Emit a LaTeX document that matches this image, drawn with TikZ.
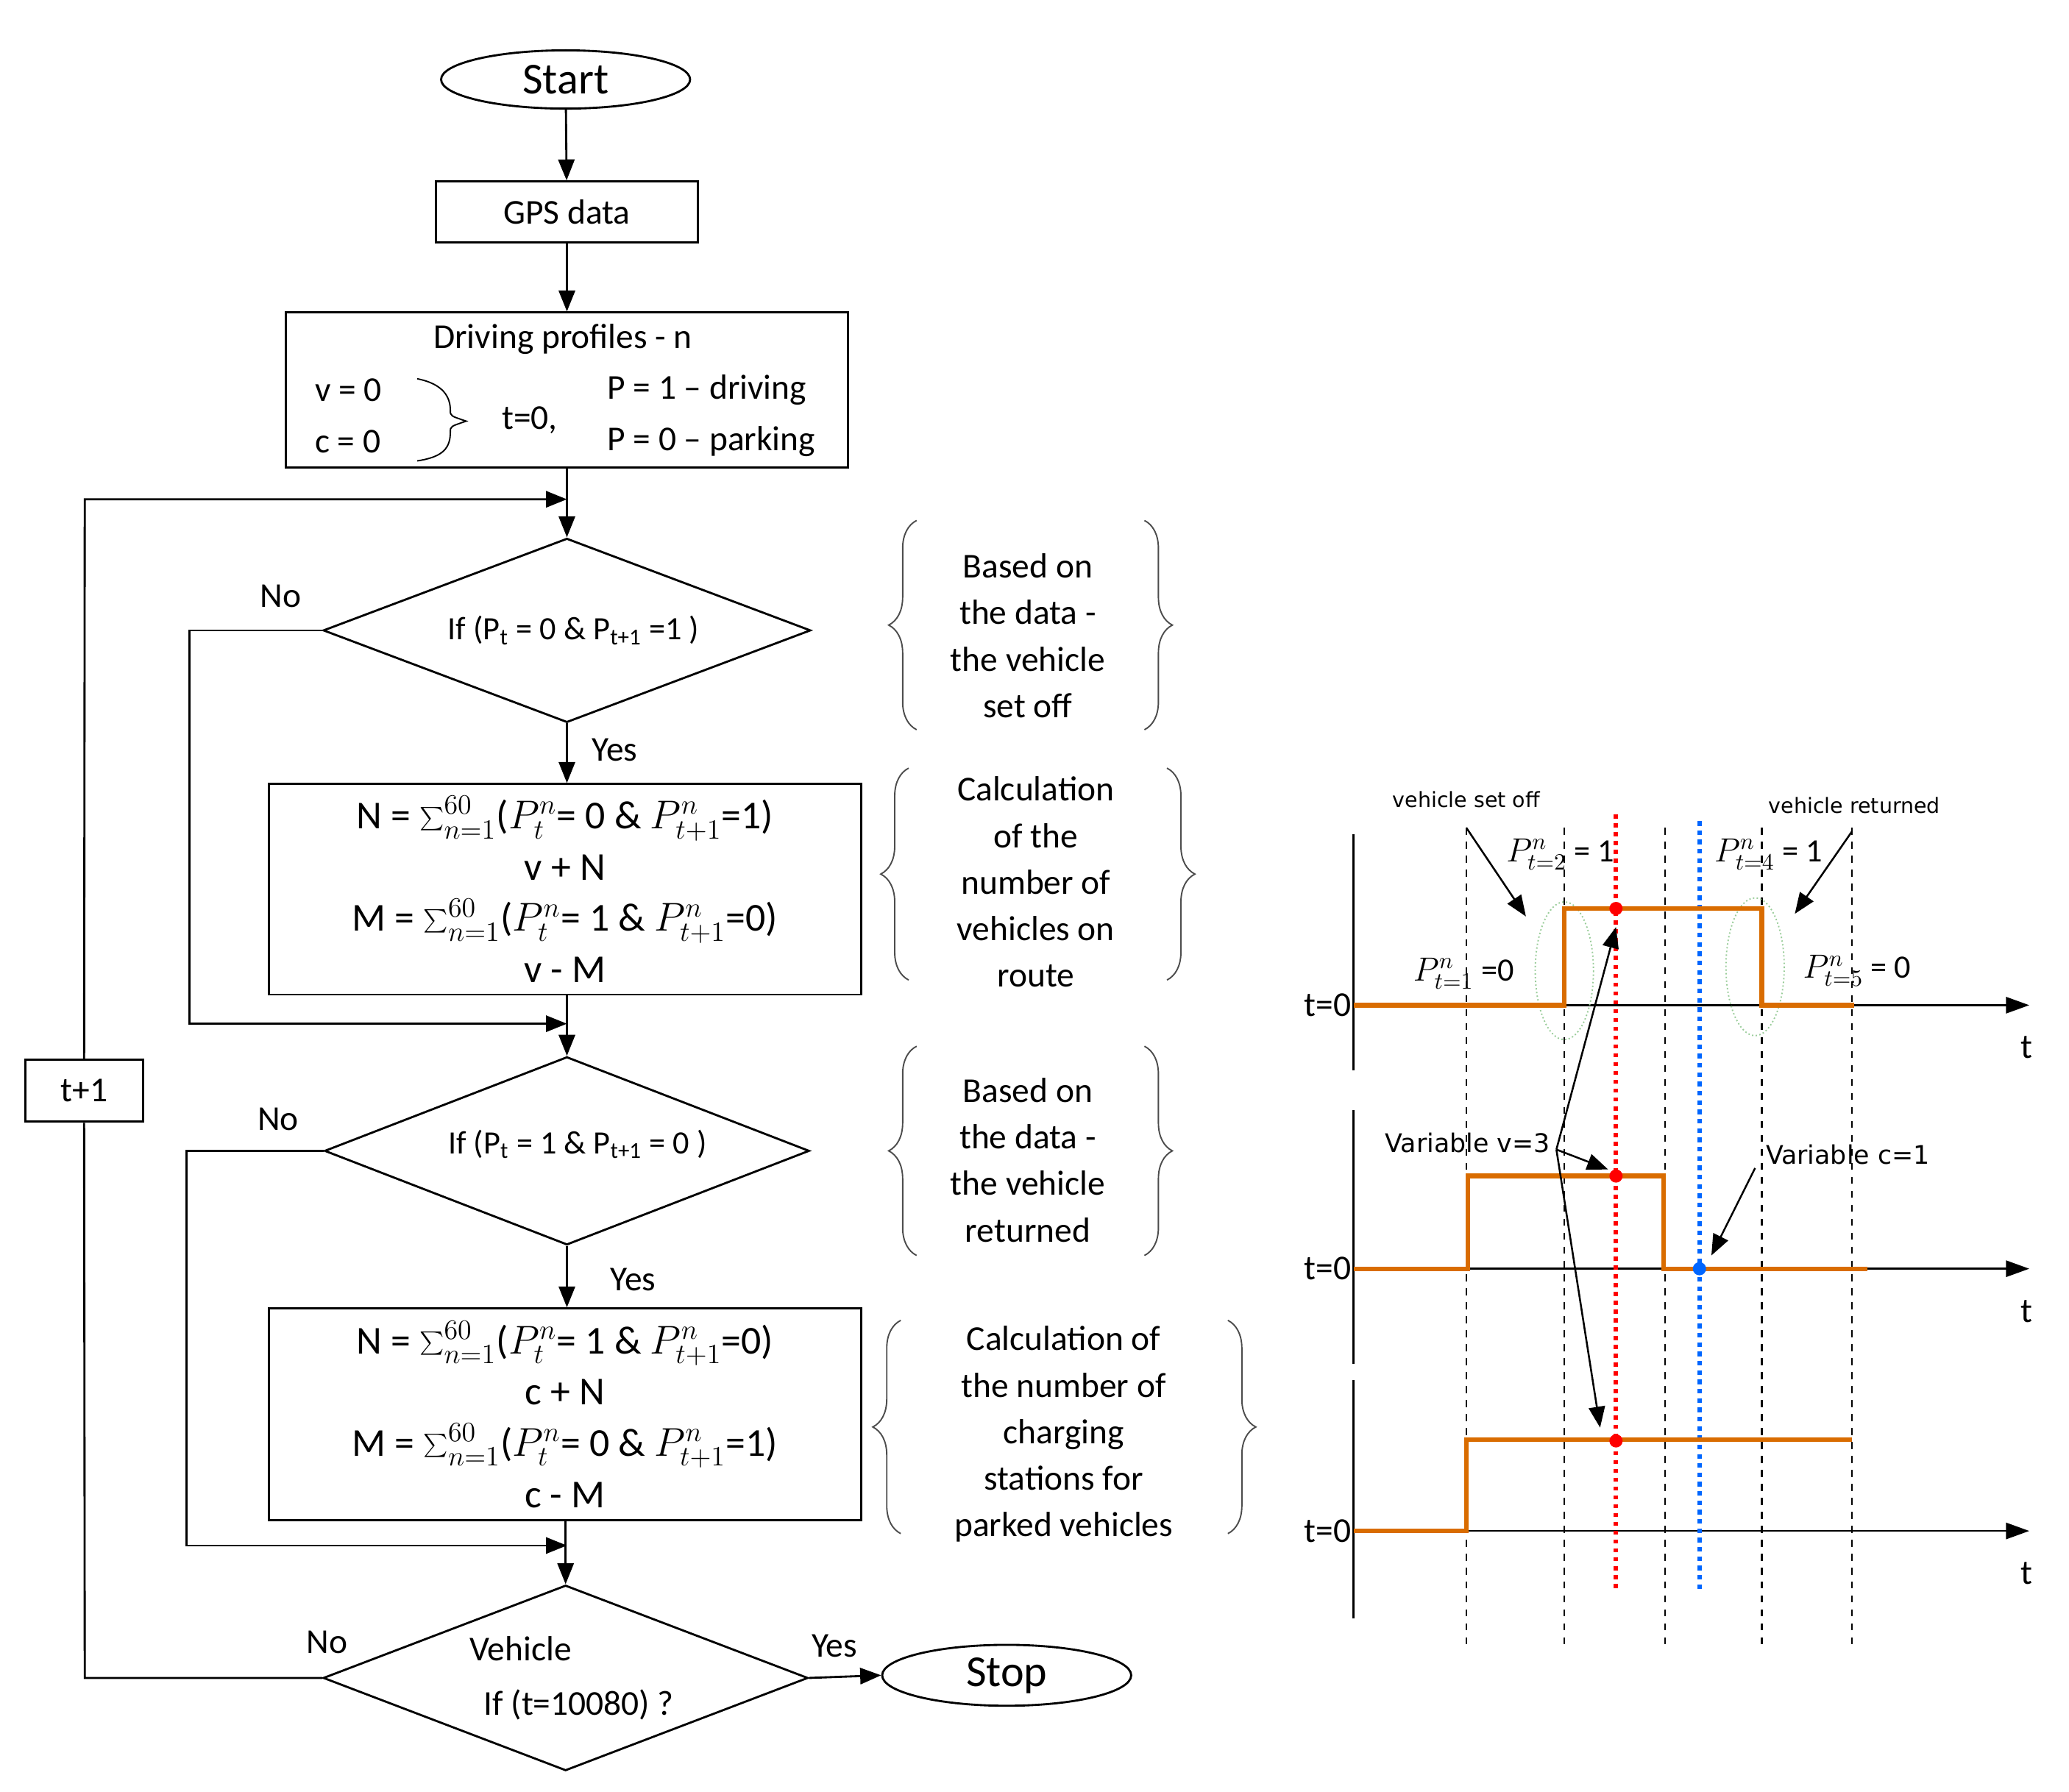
\documentclass[tikz,border=0pt]{standalone}
\usepackage{fontspec}
\setmainfont{Carlito}
\newfontfamily\sm{DejaVu Sans}
\usetikzlibrary{shapes.geometric,arrows.meta,decorations.pathreplacing}
\begin{document}
\begin{tikzpicture}[x=0.02cm,y=-0.02cm,
 box/.style={draw,line width=0.9pt,inner sep=0pt},
 dia/.style={draw,line width=0.9pt,diamond,aspect=2.65,inner sep=0pt},
 el/.style={draw,ellipse,line width=0.9pt,inner sep=0pt},
 arr/.style={line width=0.9pt,-{Triangle[length=9pt,width=7pt]}},
 ln/.style={line width=0.9pt},
 ft/.style={font=\fontsize{15}{20}\selectfont},
 mt/.style={font=\fontsize{17}{22}\selectfont},
 sig/.style={draw=orange!85!black,line width=2pt},
 dsh/.style={dashed,line width=0.8pt},
 brc/.style={decorate,decoration={brace,amplitude=12pt},line width=0.6pt,draw=black!70},
 sl/.style={font=\sm\fontsize{9}{11}\selectfont},
 pl/.style={font=\fontsize{14}{16}\selectfont},
 tl/.style={font=\fontsize{15}{18}\selectfont}]
\useasboundingbox (0,0) rectangle (1562,1353);
% flowchart
\node[el,minimum width=188*0.02cm,minimum height=44*0.02cm,font=\fontsize{19}{22}\selectfont] (start) at (427,60) {Start};
\node[box,minimum width=198*0.02cm,minimum height=46*0.02cm,ft] (gps) at (428,160) {GPS data};
\node[box,minimum width=424*0.02cm,minimum height=117*0.02cm] (drv) at (428,294.5) {};
\node[ft] (drvt) at (425,256) {Driving profiles - n};
\node[ft,align=left] (vc) at (263,314) {v = 0\\[2pt] c = 0};
\draw[line width=0.6pt] (315,286) .. controls (335,290) and (340,300) .. (340,310) .. controls (340,314) .. (352,318) .. controls (340,322) .. (340,326) .. controls (340,338) and (335,345) .. (315,348);
\node[ft] (t0) at (400,317) {t=0,};
\node[ft,align=left] (pp) at (537,314) {P = 1 -- driving\\[2pt] P = 0 -- parking};
\node[dia,minimum width=368*0.02cm,minimum height=139*0.02cm] (d1) at (428,476) {};
\node[font=\fontsize{14}{16}\selectfont] at (433,476) {If (P\textsubscript{t} = 0 \& P\textsubscript{t+1} =1 )};
\node[box,minimum width=447*0.02cm,minimum height=159*0.02cm,mt,align=center] (b2) at (426.5,671.5) {N = $\sum_{n=1}^{60}$($P_t^n$= 0 \& $P_{t+1}^n$=1)\\ v + N\\ M = $\sum_{n=1}^{60}$($P_t^n$= 1 \& $P_{t+1}^n$=0)\\ v - M};
\node[dia,minimum width=366*0.02cm,minimum height=142*0.02cm] (d2) at (428,869) {};
\node[font=\fontsize{14}{16}\selectfont] at (436,864) {If (P\textsubscript{t} = 1 \& P\textsubscript{t+1} = 0 )};
\node[box,minimum width=447*0.02cm,minimum height=160*0.02cm,mt,align=center] (b3) at (426.5,1068) {N = $\sum_{n=1}^{60}$($P_t^n$= 1 \& $P_{t+1}^n$=0)\\ c + N\\ M = $\sum_{n=1}^{60}$($P_t^n$= 0 \& $P_{t+1}^n$=1)\\ c - M};
\node[dia,minimum width=366*0.02cm,minimum height=140*0.02cm] (d3) at (427,1267) {};
\node[ft] at (393,1245) {Vehicle};
\node[ft] at (437,1287) {If (t=10080) ?};
\node[el,minimum width=188*0.02cm,minimum height=46*0.02cm,font=\fontsize{19}{22}\selectfont] (stop) at (760,1265) {Stop};
\node[box,minimum width=89*0.02cm,minimum height=47*0.02cm,ft] (tp) at (63.5,823.5) {t+1};
\coordinate (j1) at (428,377); \coordinate (j2) at (428,773); \coordinate (j3) at (428,1167);
\draw[arr] (start) -- (gps);
\draw[arr] (gps) -- (drv);
\draw[arr] (drv.south) -- (d1.north);
\draw[arr] (d1.south) -- (b2.north -| d1.south);
\draw[arr] (b2.south -| d2.north) -- (d2.north);
\draw[arr] (d2.south) -- (b3.north -| d2.south);
\draw[arr] (b3.south -| d3.north) -- (d3.north);
\draw[arr] (d3.east) -- (stop.west);
\draw[ln] (d3.west) -- (64,1267) -- (tp.south);
\draw[arr] (tp.north) -- (64,377) -- (j1);
\draw[arr] (d1.west) -- (143,476) -- (143,773) -- (j2);
\draw[arr] (d2.west) -- (141,869) -- (141,1167) -- (j3);
\node[ft] at (212,450) {No}; \node[ft] at (464,566) {Yes};
\node[ft] at (210,845) {No}; \node[ft] at (478,966) {Yes};
\node[ft] at (247,1240) {No}; \node[ft] at (630,1243) {Yes};
% braces
\node[ft,align=center] (g1) at (776,480) {Based on\\the data -\\the vehicle\\set off};
\draw[brc] (692,551) -- (692,393); \draw[brc] (864,393) -- (864,551);
\node[ft,align=center] (g2) at (782,666) {Calculation\\of the\\number of\\vehicles on\\route};
\draw[brc] (686,740) -- (686,580); \draw[brc] (881,580) -- (881,740);
\node[ft,align=center] (g3) at (776,876) {Based on\\the data -\\the vehicle\\returned};
\draw[brc] (692,948) -- (692,790); \draw[brc] (864,790) -- (864,948);
\node[ft,align=center] (g4) at (803,1083) {Calculation of\\the number of\\charging\\stations for\\parked vehicles};
\draw[brc] (680,1158) -- (680,997); \draw[brc] (927,997) -- (927,1158);
% timing chart
\foreach \yy/\ya/\yb in {759/630/808,958/838/1030,1156/1042/1222}{
  \draw[line width=1pt] (1022,\ya) -- (1022,\yb);
  \draw[line width=0.8pt,-{Triangle[length=10pt,width=7pt]}] (1022,\yy) -- (1532,\yy);
  \node[tl,anchor=east,inner sep=1pt] at (1022,\yy) {t=0};
  \node[tl] at (1530,\yy+32) {t};
}
\foreach \xx in {1107,1181,1257,1330,1398}{\draw[dsh] (\xx,625) -- (\xx,1243);}
\draw[red,dotted,line width=1.8pt] (1220,615) -- (1220,1200);
\draw[blue!60!cyan,dotted,line width=2pt] (1283,620) -- (1283,1200);
\draw[green!50!black!40,densely dotted,line width=0.6pt] (1181,733) ellipse (22 and 52);
\draw[green!50!black!40,densely dotted,line width=0.6pt] (1325,730) ellipse (22 and 52);
\draw[sig] (1022,759) -- (1181,759) -- (1181,686) -- (1330,686) -- (1330,759) -- (1400,759);
\draw[sig] (1022,958) -- (1108,958) -- (1108,888) -- (1256,888) -- (1256,958) -- (1410,958);
\draw[sig] (1022,1156) -- (1107,1156) -- (1107,1087) -- (1398,1087);
\fill[red] (1220,686) circle (5) (1220,888) circle (5) (1220,1088) circle (5);
\fill[blue!60!cyan] (1283,958) circle (5);
\node[sl] (vso) at (1107,604) {vehicle set off};
\node[sl] (vr) at (1400,608) {vehicle returned};
\coordinate (a1) at (1107,625); \coordinate (a2) at (1152,692);
\coordinate (a3) at (1398,628); \coordinate (a4) at (1355,690);
\draw[line width=0.8pt,-{Triangle[length=9pt,width=7pt]}] (a1) -- (a2);
\draw[line width=0.8pt,-{Triangle[length=9pt,width=7pt]}] (a3) -- (a4);
\node[pl] at (1105,735) {$P^n_{t=1}$ =0};
\node[pl] at (1178,645) {$P^n_{t=2}$ = 1};
\node[pl] at (1335,645) {$P^n_{t=4}$ = 1};
\node[pl] at (1402,733) {$P^n_{t=5}$ = 0};
\node[sl,font=\sm\fontsize{11}{13}\selectfont] (vv) at (1108,863) {Variable v=3};
\node[sl,font=\sm\fontsize{11}{13}\selectfont] (vc1) at (1395,872) {Variable c=1};
\coordinate (h) at (1175,868);
\draw[line width=0.8pt,-{Triangle[length=9pt,width=7pt]}] (h) -- (1220,700);
\draw[line width=0.8pt,-{Triangle[length=9pt,width=7pt]}] (h) -- (1214,883);
\draw[line width=0.8pt,-{Triangle[length=9pt,width=7pt]}] (h) -- (1208,1078);
\draw[line width=0.8pt,-{Triangle[length=9pt,width=7pt]}] (1325,882) -- (1292,948);
\end{tikzpicture}
\end{document}
